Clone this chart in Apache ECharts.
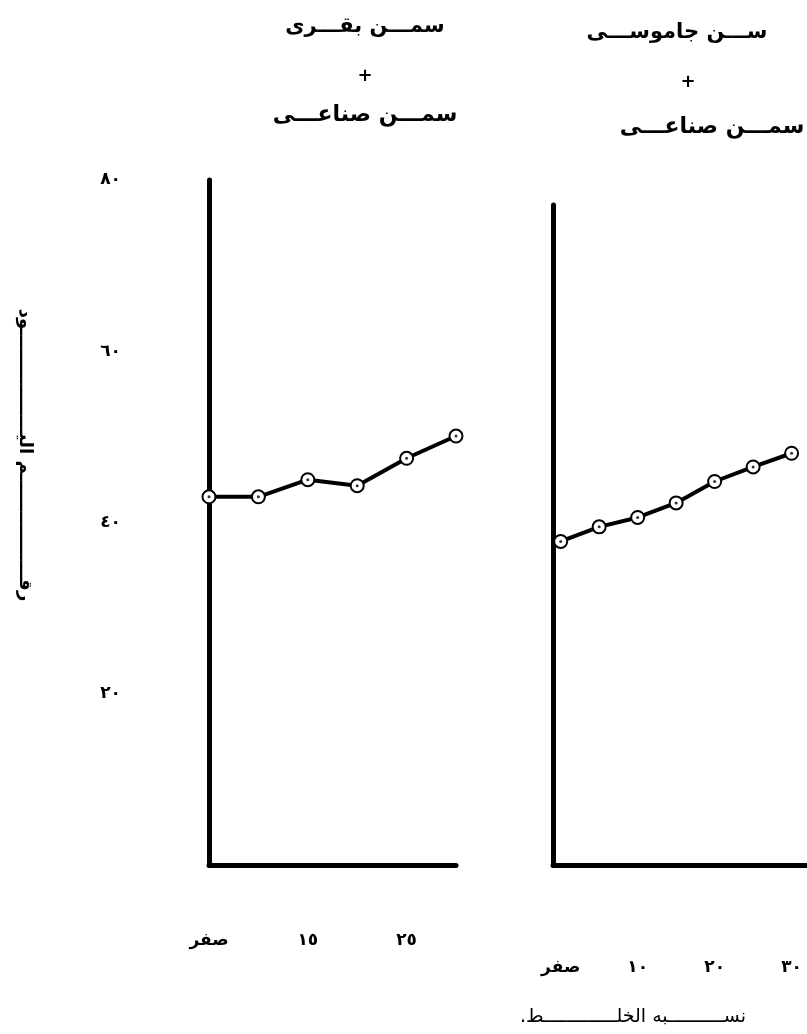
<!DOCTYPE html>
<html>
<head>
<meta charset="utf-8">
<script src="https://cdn.jsdelivr.net/npm/echarts@6/dist/echarts.min.js"></script>
<style>html,body{margin:0;padding:0;background:#fff;}#c{width:807px;height:1034px;}</style>
</head>
<body>
<div id="c"></div>
<script>
// ---- data ----
const leftCats = ['0', '10', '15', '20', '25', '30'];
const leftXLabelText = { '0': 'صفر', '15': '١٥', '25': '٢٥' };
const leftVals = [43.0, 43.0, 45.0, 44.3, 47.5, 50.1];

const rightX = [0, 5, 10, 15, 20, 25, 30];
const rightVals = [37.8, 39.5, 40.6, 42.3, 44.8, 46.5, 48.1];
const rightXTicks = [0, 10, 20, 30];
const rightXLabelText = { 0: 'صفر', 10: '١٠', 20: '٢٠', 30: '٣٠' };

const yTickText = { 20: '٢٠', 40: '٤٠', 60: '٦٠', 80: '٨٠' };

const leftTitle = ['سمـــن بقـــرى', '+', 'سمـــن صناعـــى'];
const rightTitle = ['ســـن جاموســـى', '+', 'سمـــن صناعـــى'];
const yName = 'رقـــــــــــــــــم اليـــــــــــــــــود';
const xName = 'نســــــــــبه الخلـــــــــــــط.\u200F';

const FONT = 'DejaVu Sans';
const axisLine = { show: true, onZero: false, lineStyle: { color: '#000', width: 5 } };
const tStyle = (size, weight) => ({ fontFamily: FONT, fontSize: size, fontWeight: weight, color: '#000' });

const chart = echarts.init(document.getElementById('c'), null, { renderer: 'canvas' });

chart.setOption({
  backgroundColor: '#fff',
  animation: false,
  textStyle: { fontFamily: FONT, color: '#000' },
  title: [
    { text: leftTitle[0], left: 360, top: 11, textAlign: 'center', textStyle: tStyle(21, 'bold') },
    { text: leftTitle[1], left: 360, top: 62, textAlign: 'center', textStyle: tStyle(18, 'bold') },
    { text: leftTitle[2], left: 360, top: 99, textAlign: 'center', textStyle: tStyle(22, 'bold') },
    { text: rightTitle[0], left: 672, top: 17, textAlign: 'center', textStyle: tStyle(21, 'bold') },
    { text: rightTitle[1], left: 683, top: 68, textAlign: 'center', textStyle: tStyle(18, 'bold') },
    { text: rightTitle[2], left: 707, top: 111, textAlign: 'center', textStyle: tStyle(22, 'bold') },
    { text: xName, left: 628, top: 1003, textAlign: 'center', textStyle: tStyle(19, 'normal') }
  ],
  graphic: [
    {
      type: 'text', x: 25, y: 455, rotation: -Math.PI / 2,
      style: { text: yName, font: 'bold 18px "DejaVu Sans"', fill: '#000', align: 'center', verticalAlign: 'middle' }
    }
  ],
  grid: [
    { left: 209, top: 180, width: 247, bottom: 169 },
    { left: 553, top: 205, width: 264, bottom: 169 }
  ],
  xAxis: [
    {
      gridIndex: 0, type: 'category', data: leftCats, boundaryGap: false,
      axisLine: axisLine, axisTick: { show: false }, splitLine: { show: false },
      axisLabel: Object.assign({ interval: 0, margin: 67, formatter: v => leftXLabelText[v] || '' }, tStyle(17, 'bold'))
    },
    {
      gridIndex: 1, type: 'value', min: -1, max: 32,
      axisLine: axisLine, axisTick: { show: false }, splitLine: { show: false },
      axisLabel: Object.assign({ customValues: rightXTicks, margin: 94, formatter: v => rightXLabelText[v] || '' }, tStyle(17, 'bold'))
    }
  ],
  yAxis: [
    {
      gridIndex: 0, type: 'value', min: 0, max: 80, interval: 20,
      axisLine: axisLine, axisTick: { show: false }, splitLine: { show: false },
      axisLabel: Object.assign({ margin: 88, formatter: v => yTickText[v] || '' }, tStyle(17, 'bold'))
    },
    {
      gridIndex: 1, type: 'value', min: 0, max: 77.1,
      axisLine: axisLine, axisTick: { show: false }, splitLine: { show: false },
      axisLabel: { show: false }
    }
  ],
  series: [
    {
      type: 'line', xAxisIndex: 0, yAxisIndex: 0, data: leftVals,
      symbol: 'circle', symbolSize: 13,
      lineStyle: { color: '#000', width: 4 },
      itemStyle: { color: '#fff', borderColor: '#000', borderWidth: 2 },
      z: 3
    },
    {
      type: 'scatter', xAxisIndex: 0, yAxisIndex: 0, data: leftVals,
      symbol: 'circle', symbolSize: 3, itemStyle: { color: '#000' }, z: 5
    },
    {
      type: 'line', xAxisIndex: 1, yAxisIndex: 1, data: rightX.map((x, i) => [x, rightVals[i]]),
      symbol: 'circle', symbolSize: 13,
      lineStyle: { color: '#000', width: 4 },
      itemStyle: { color: '#fff', borderColor: '#000', borderWidth: 2 },
      z: 3
    },
    {
      type: 'scatter', xAxisIndex: 1, yAxisIndex: 1, data: rightX.map((x, i) => [x, rightVals[i]]),
      symbol: 'circle', symbolSize: 3, itemStyle: { color: '#000' }, z: 5
    }
  ]
});
</script>
</body>
</html>
